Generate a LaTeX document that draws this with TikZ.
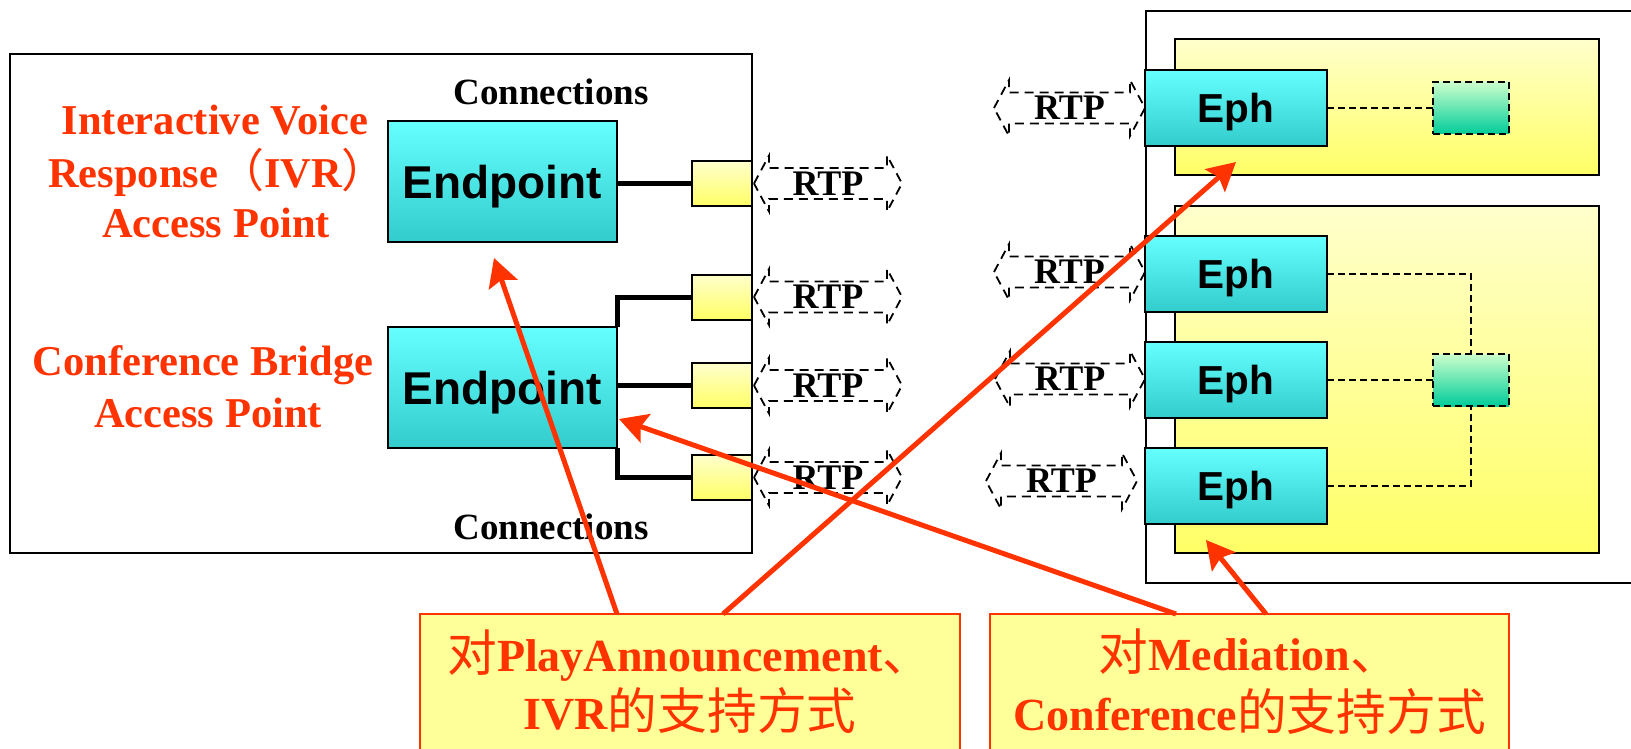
\documentclass[tikz,border=0pt]{standalone}
\usepackage{fontspec}
\setmainfont{Liberation Serif}
\newfontfamily\arialf{Liberation Sans}
\newfontfamily\cjk{Noto Sans CJK SC}[Scale=1.08]
\usetikzlibrary{arrows.meta}
\definecolor{cyanT}{HTML}{66FFFF}
\definecolor{cyanB}{HTML}{33CCCC}
\definecolor{yelT}{HTML}{FFFFCC}
\definecolor{yelB}{HTML}{FFFF66}
\definecolor{grnT}{HTML}{CCFFCC}
\definecolor{grnB}{HTML}{00CC99}
\definecolor{redc}{HTML}{FF3300}
\definecolor{notefill}{HTML}{FFFF99}
\newcommand{\rtparrow}[4]{%
  \draw[rtpline] (#2,#4) -- ++(15,-28) -- ++(0,12.5) -- ({#3-15},{#4-15.5}) -- ++(0,-12.5) -- (#3,#4)
    -- ++(-15,28) -- ++(0,-12.5) -- ({#2+15},{#4+15.5}) -- ++(0,12.5) -- cycle;
  \node[rtptext] (#1) at ({(#2+#3)/2},#4) {RTP};}
\begin{document}
\begin{tikzpicture}[x=1pt,y=-1pt,
  bxs/.style={rectangle, inner sep=0pt, outer sep=0pt},
  lframe/.style={bxs, draw=black, line width=2pt},
  epbox/.style={bxs, draw=black, line width=2.5pt, top color=cyanT, bottom color=cyanB, text depth=0pt},
  portbox/.style={bxs, draw=black, line width=2pt, top color=yelT, bottom color=yelB, minimum width=60pt, minimum height=45pt},
  yelbox/.style={bxs, draw=black, line width=2pt, top color=yelT, bottom color=yelB, minimum width=424pt},
  grnbox/.style={bxs, draw=black, line width=2pt, dash pattern=on 7pt off 4pt, top color=grnT, bottom color=grnB, minimum width=76pt, minimum height=52pt},
  ephbox/.style={epbox, minimum width=182pt, minimum height=76pt, font=\arialf\fontsize{40.5}{40}\selectfont\bfseries},
  endpbox/.style={epbox, minimum width=229pt, minimum height=121pt, font=\arialf\fontsize{46}{46}\selectfont\bfseries},
  connline/.style={line width=5pt, line join=miter},
  dline/.style={line width=1.8pt, dash pattern=on 7pt off 4pt},
  rtpline/.style={line width=1.8pt, dash pattern=on 9pt off 6pt, line join=miter},
  rtptext/.style={font=\fontsize{36}{36}\selectfont\bfseries, inner sep=0pt},
  redlabel/.style={font=\fontsize{42.5}{50}\selectfont\bfseries, text=redc, inner sep=0pt, anchor=base},
  conlabel/.style={font=\fontsize{37}{40}\selectfont\bfseries, inner sep=0pt, anchor=base},
  notebox/.style={bxs, draw=redc, line width=2pt, fill=notefill, minimum height=170pt},
  notetext/.style={font=\fontsize{46}{50}\selectfont\bfseries, text=redc, inner sep=0pt, anchor=base},
  redarrow/.style={draw=redc, line width=5pt, -{Stealth[length=28pt,width=30pt,inset=5pt]}}
]
\useasboundingbox (0,0) rectangle (1631,749);
\fill[white] (0,0) rectangle (1631,749);

% left frame
\node[lframe, minimum width=742pt, minimum height=499pt] (lbox) at (381,303.5) {};

% ports
\node[portbox] (p1) at (722,183.5) {};
\node[portbox] (p2) at (722,297) {};
\node[portbox] (p3) at (722,385.5) {};
\node[portbox] (p4) at (722,477.5) {};

% endpoints
\node[endpbox] (ivr) at (502.5,181.5) {Endpoint};
\node[endpbox] (conf) at (502.5,387.5) {Endpoint};

% thick connections
\draw[connline] (p1.west) -- (p1.west -| ivr.east);
\draw[connline] (p2.west) -| (conf.north east);
\draw[connline] (p3.west) -- (p3.west -| conf.east);
\draw[connline] (p4.west) -| (conf.south east);

% left RTP arrows
\rtparrow{rl1}{754}{902}{183.5}
\rtparrow{rl2}{754}{902}{297}
\rtparrow{rl3}{754}{902}{385.5}
\rtparrow{rl4}{754}{902}{477.5}

% labels left
\node[conlabel] (contop) at (551,105) {Connections};
\node[conlabel] (conbot) at (551,539) {Connections};
\node[redlabel] (ivrA) at (215,135) {Interactive Voice};
\node[redlabel] (ivrB) at (218,187) {Response{\cjk\mdseries （}IVR{\cjk\mdseries ）}};
\node[redlabel] (ivrC) at (216,237) {Access Point};
\node[redlabel] (cbA) at (203,375) {Conference Bridge};
\node[redlabel] (cbB) at (208,427) {Access Point};

% right frame
\node[bxs, draw=black, line width=2.5pt, minimum width=494pt, minimum height=572pt] (rframe) at (1393,297) {};
\node[yelbox, minimum height=136pt] (y1) at (1387,107) {};
\node[yelbox, minimum height=347pt] (y2) at (1387,379.5) {};

\node[ephbox] (e1) at (1236,108) {Eph};
\node[ephbox] (e2) at (1236,274) {Eph};
\node[ephbox] (e3) at (1236,380) {Eph};
\node[ephbox] (e4) at (1236,486) {Eph};

\node[grnbox] (g1) at (1471,108) {};
\node[grnbox] (g2) at (1471,380) {};

\draw[dline] (e1.east) -- (g1.west);
\draw[dline] (e2.east) -| (g2.north);
\draw[dline] (e3.east) -- (g2.west);
\draw[dline] (e4.east) -| (g2.south);

% right RTP arrows
\rtparrow{rr1}{994}{1145}{108}
\rtparrow{rr2}{994}{1145}{272}
\rtparrow{rr3}{995}{1145}{379}
\rtparrow{rr4}{986}{1137}{481}

% note boxes
\node[notebox, minimum width=540pt] (b1) at (690,699) {};
\node[notebox, minimum width=519pt] (b2) at (1249.5,699) {};
\node[notetext] (b1a) at (690,671) {{\cjk\mdseries 对}PlayAnnouncement{\cjk\mdseries 、}};
\node[notetext] (b1b) at (690,729) {IVR{\cjk\mdseries 的支持方式}};
\node[notetext] (b2a) at (1249.5,670) {{\cjk\mdseries 对}Mediation{\cjk\mdseries 、}};
\node[notetext] (b2b) at (1249.5,730) {Conference{\cjk\mdseries 的支持方式}};

% red arrows
\path (b1.north west) ++(197,0) coordinate (s1);
\path (b1.north west) ++(303,0) coordinate (s2);
\path (b2.north west) ++(186,0) coordinate (s3);
\path (b2.north west) ++(276,0) coordinate (s4);
\path (ivr.south) ++(-8.5,16) coordinate (t1);
\path (e1.south) ++(0,16) coordinate (t2);
\path (conf.east) ++(2,31.5) coordinate (t3);
\path (e4.south) ++(-30,16) coordinate (t4);
\draw[redarrow] (s1) -- (t1);
\draw[redarrow] (s2) -- (t2);
\draw[redarrow] (s3) -- (t3);
\draw[redarrow] (s4) -- (t4);
\end{tikzpicture}
\end{document}
